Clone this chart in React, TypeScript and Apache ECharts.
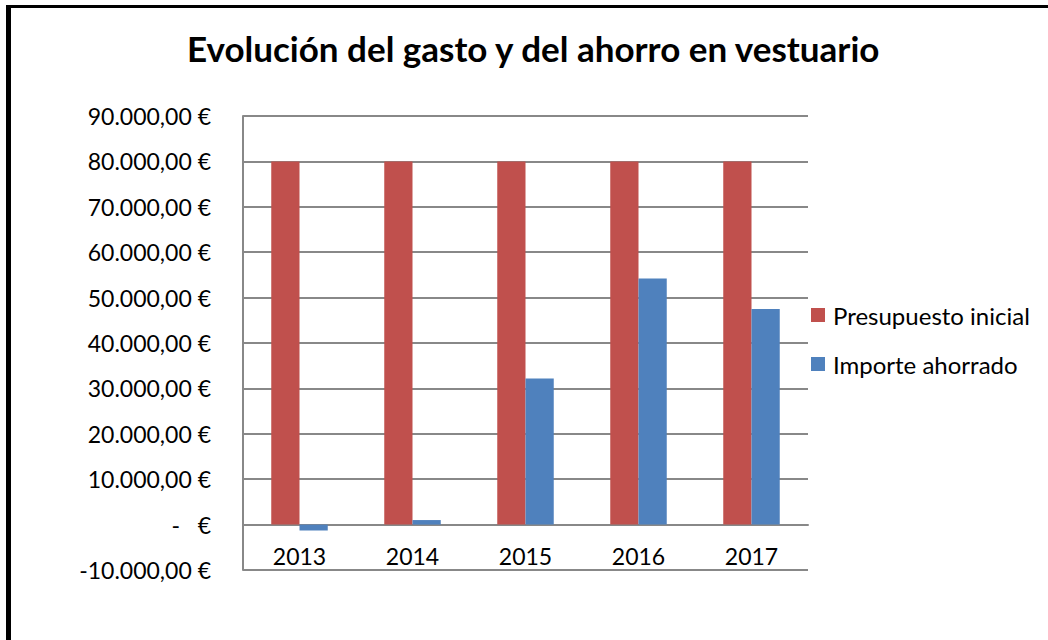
import React, { useEffect, useRef } from "react";
import * as echarts from "echarts";

const categories = ["2013", "2014", "2015", "2016", "2017"];
const presupuestoInicial = [80000, 80000, 80000, 80000, 80000];
const importeAhorrado = [-1300, 1000, 32200, 54200, 47500];
const seriesNames = ["Presupuesto inicial", "Importe ahorrado"];
const titleText = "Evolución del gasto y del ahorro en vestuario";

const fmt = (v: number) => {
  if (v === 0) return "-   €";
  const neg = v < 0;
  const s = Math.abs(v).toFixed(0).replace(/\B(?=(\d{3})+(?!\d))/g, ".");
  return (neg ? "-" : "") + s + ",00 €";
};

export default function App() {
  const ref = useRef<HTMLDivElement>(null);
  useEffect(() => {
    if (!ref.current) return;
    const chart = echarts.init(ref.current, undefined, { renderer: "svg" });
    const font = "Lato, 'Open Sans', sans-serif";
    chart.setOption({
      animation: false,
      backgroundColor: "#ffffff",
      title: {
        text: titleText,
        left: 182,
        top: 25,
        textStyle: { fontFamily: font, fontSize: 35, fontWeight: "bold", color: "#000" },
      },
      legend: {
        orient: "vertical",
        left: 811,
        top: 302,
        padding: 0,
        itemWidth: 14,
        itemHeight: 14,
        itemGap: 23,
        icon: "rect",
        data: seriesNames,
        textStyle: { fontFamily: font, fontSize: 24, color: "#000", lineHeight: 26, padding: [0, 0, 0, 3] },
      },
      grid: { left: 243, right: 240, top: 116, bottom: 70, containLabel: false },
      xAxis: {
        type: "category",
        data: categories,
        axisLine: { onZero: true, lineStyle: { color: "#888888", width: 2 } },
        axisTick: { show: false },
        axisLabel: { fontFamily: font, fontSize: 23, color: "#000", margin: -26 },
      },
      yAxis: {
        type: "value",
        min: -10000,
        max: 90000,
        interval: 10000,
        axisLine: { show: true, lineStyle: { color: "#888888", width: 2 } },
        axisTick: { show: false },
        splitLine: { lineStyle: { color: "#888888", width: 2 } },
        axisLabel: { fontFamily: font, fontSize: 23, color: "#000", margin: 32, formatter: fmt },
      },
      series: [
        {
          name: seriesNames[0],
          type: "bar",
          data: presupuestoInicial,
          itemStyle: { color: "#C0504D" },
          barGap: "0%",
          barCategoryGap: "50%",
        },
        {
          name: seriesNames[1],
          type: "bar",
          data: importeAhorrado,
          itemStyle: { color: "#4F81BD" },
          barGap: "0%",
          barCategoryGap: "50%",
        },
      ],
      graphic: [
        { type: "line", shape: { x1: 6, y1: 6.5, x2: 1048, y2: 6.5 }, style: { stroke: "#000", lineWidth: 3 } },
        { type: "line", shape: { x1: 8.5, y1: 5, x2: 8.5, y2: 640 }, style: { stroke: "#000", lineWidth: 5 } },
      ],
    });
    return () => chart.dispose();
  }, []);
  return (
    <div
      ref={ref}
      style={{ position: "fixed", left: 0, top: 0, width: 1048, height: 640 }}
    />
  );
}
